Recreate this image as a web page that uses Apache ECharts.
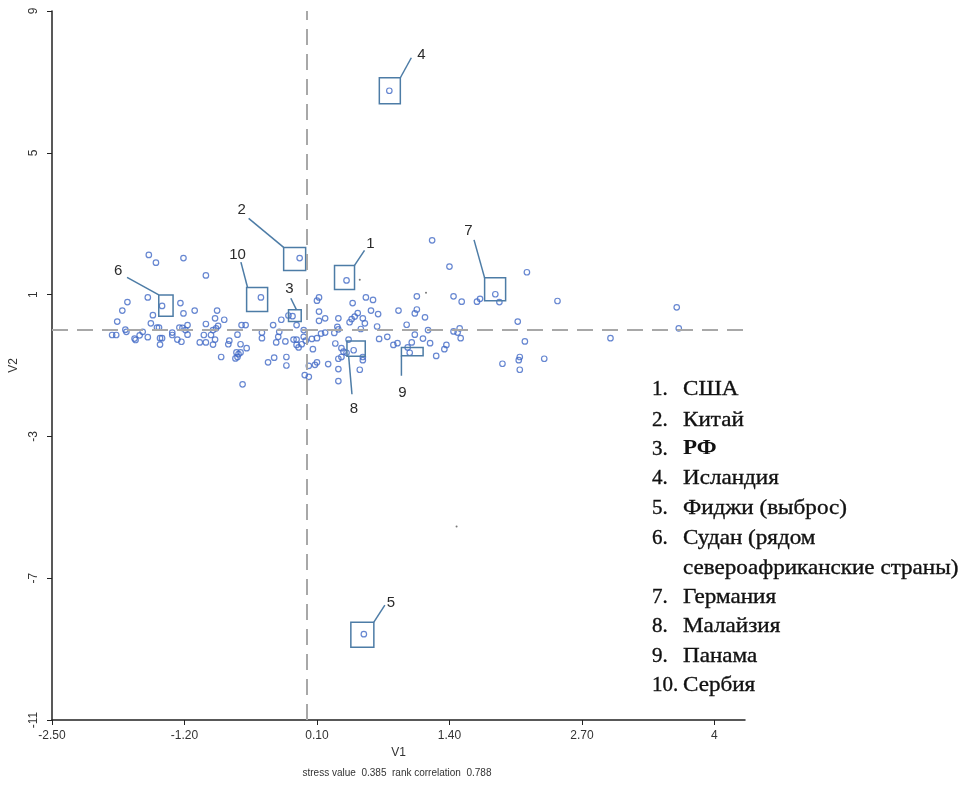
<!DOCTYPE html>
<html><head><meta charset="utf-8">
<script src="https://cdn.jsdelivr.net/npm/echarts@6/dist/echarts.min.js"></script>
<style>html,body{margin:0;padding:0;background:#fff}#c{width:964px;height:785px}</style>
</head><body><div id="c"></div>
<script>
// ---------- DATA ----------
const pointsV1 = [
-1.55,-1.48,-1.21,-0.99,-1.76,-1.56,-1.24,-1.81,-1.51,-1.21,-1.10,-0.88,-0.90,-0.81,-1.86,-1.53,-1.47,-1.45,-1.25,-1.22,
-1.17,-1.19,-0.99,-0.87,-0.89,-0.92,-0.64,-0.60,-0.33,-0.25,-0.18,-0.10,-0.03,-1.91,-1.87,-1.77,-1.78,-1.69,-1.68,-1.64,
-1.61,-1.56,-1.44,-1.42,-1.44,-1.32,-1.32,-1.27,-1.23,-1.17,-1.05,-0.99,-1.01,-0.94,-0.90,-0.92,-0.84,-0.76,-0.77,-0.68,
-0.65,-0.59,-0.69,-0.67,-0.65,-0.70,-0.68,-0.44,-0.44,-0.30,-0.27,-0.28,-0.21,-0.13,-0.10,-0.10,-0.08,-0.05,-0.03,-0.01,
-0.38,-0.32,-0.20,-0.20,-0.02,0.02,0.02,-0.63,
1.23,1.40,0.12,0.10,0.45,0.58,0.65,1.08,1.44,1.52,1.67,1.70,0.12,0.18,0.12,0.31,0.50,0.47,0.44,0.42,
0.55,0.57,0.63,0.70,0.90,1.08,1.06,1.16,0.69,0.53,0.30,0.31,0.18,0.14,0.05,0.10,0.27,0.98,1.06,1.19,
1.14,1.21,1.44,1.50,1.51,1.48,0.71,0.79,0.85,0.89,1.03,0.99,1.37,1.35,1.27,0.06,0.28,0.34,0.36,0.39,
0.41,0.31,0.34,0.55,0.55,0.08,0.10,0.21,0.31,0.52,0.31,
2.16,1.89,2.46,2.07,3.63,3.65,2.14,2.98,1.92,2.09,2.08,2.09,2.33
];
const pointsV2 = [
2.12,1.90,2.03,1.54,0.79,0.92,0.76,0.55,0.42,0.47,0.55,0.55,0.33,0.29,0.24,0.19,0.07,0.07,0.07,0.06,
0.14,0.00,0.17,0.12,0.05,0.00,0.14,0.14,0.14,0.29,0.41,0.14,0.00,-0.14,-0.14,-0.05,0.01,-0.24,-0.28,-0.15,
-0.05,-0.20,-0.23,-0.23,-0.41,-0.07,-0.14,-0.27,-0.33,-0.13,-0.35,-0.35,-0.14,-0.14,-0.27,-0.41,-0.76,-0.30,-0.40,-0.13,
-0.40,-0.51,-0.63,-0.68,-0.63,-0.80,-0.76,-0.07,-0.23,-0.35,-0.05,-0.19,-0.32,-0.27,-0.27,-0.42,-0.49,-0.40,-0.19,-0.30,
-0.91,-0.78,-0.76,-1.00,-1.27,-1.32,-1.01,-1.53,
2.53,1.79,0.92,0.83,0.76,0.92,0.85,0.95,0.95,0.80,0.80,0.88,0.52,0.33,0.26,0.33,0.48,0.38,0.31,0.22,
0.33,0.19,0.55,0.45,0.55,0.58,0.47,0.36,0.10,0.03,0.09,0.02,-0.07,-0.10,-0.25,-0.23,-0.08,0.15,-0.13,0.00,
-0.24,-0.37,-0.04,0.05,-0.23,-0.07,-0.25,-0.19,-0.42,-0.37,-0.35,-0.49,-0.42,-0.54,-0.73,-0.54,-0.38,-0.51,-0.61,-0.64,
-0.27,-0.81,-0.76,-0.76,-0.85,-0.98,-0.91,-0.96,-1.10,-1.12,-1.44,
1.63,0.79,0.82,0.24,0.64,0.05,-0.32,-0.23,-0.95,-0.76,-0.85,-1.12,-0.81
];
// highlighted countries, numbered 1..10
const highlightLabels = ['1','2','3','4','5','6','7','8','9','10'];
const highlightV1 = [0.39,-0.07,-0.14,0.81,0.56,-1.42,1.85,0.46,1.01,-0.45];
const highlightV2 = [1.40,2.03,0.39,6.75,-8.58,0.68,1.01,-0.57,-0.64,0.92];
// tiny stray dots
const dotsV1 = [0.52,1.17,1.47];
const dotsV2 = [1.42,1.05,-5.54];
// legend
const legendNumbers = ['1.','2.','3.','4.','5.','6.','','7.','8.','9.','10.'];
const legendNames = ['США','Китай','РФ','Исландия','Фиджи (выброс)','Судан (рядом','североафриканские страны)','Германия','Малайзия','Панама','Сербия'];
const subtitleText = 'stress value  0.385  rank correlation  0.788';

// ---------- LAYOUT / STYLE (pixel offsets relative to each highlighted point) ----------
const annotationLayout = [
  {box:[-12,-15,8,9],      line:[[8,-15],[18,-30]],     label:[24,-37]},
  {box:[-16,-10.7,6,12.3], line:[[-16,-10.7],[-51,-39.7]], label:[-58,-48.7]},
  {box:[-4,-6.4,8.7,5.3],  line:[[4,-6.4],[-1.7,-18]],  label:[-3,-27.7]},
  {box:[-10,-13,11,13],    line:[[11,-13],[22,-33]],    label:[32,-36]},
  {box:[-13,-12,10,13],    line:[[10,-12],[21,-29]],    label:[27,-31]},
  {box:[-3.3,-11,11,10.4], line:[[-3.3,-11],[-35,-28.6]], label:[-44,-35.3]},
  {box:[-10.7,-16.4,10.3,6.6], line:[[-10.7,-16.4],[-21.3,-54.4]], label:[-27,-63.7]},
  {box:[-6.7,-9.3,11.6,6], line:[[-5,6],[-1.7,44]],     label:[0.3,58.7]},
  {box:[-8.3,-5.3,13.4,3], line:[[-8.3,3],[-8.3,23]],   label:[-7.3,40]},
  {box:[-14.3,-10,6.7,14], line:[[-13.3,-9.7],[-20,-35.3]], label:[-23.3,-43]}
];
const legendX = 652, legendTextX = 683;
const legendY = [389,420,449,478,508,538,568,597,626,656,685];

const POINT_COLOR = '#4169c6';
const BOX_COLOR = '#4d7ca6';
const AXIS_FONT = '"Liberation Sans", Arial, sans-serif';
const SERIF = '"Liberation Serif", "Times New Roman", serif';

const mainData = pointsV1.map((v, i) => [v, pointsV2[i]]);
const hlData = highlightV1.map((v, i) => [v, highlightV2[i]]);
const dotData = dotsV1.map((v, i) => [v, dotsV2[i]]);

const chart = echarts.init(document.getElementById('c'), null, {renderer: 'canvas'});

const graphics = [];
legendNames.forEach((name, i) => {
  if (legendNumbers[i]) {
    graphics.push({type:'text', x: legendX, y: legendY[i], silent:true,
      style:{text: legendNumbers[i], fill:'#111', stroke:'#111', lineWidth:0.35, font:'21px ' + SERIF,
             textAlign:'left', textVerticalAlign:'middle', align:'left', verticalAlign:'middle'}});
  }
  const bold = name === 'РФ';
  graphics.push({type:'text', x: legendTextX, y: legendY[i], silent:true, scaleX: 1.1,
    style:{text: name, fill:'#111', stroke:'#111', lineWidth: bold ? 0 : 0.35,
           font:(bold ? 'bold ' : '') + '21px ' + SERIF,
           textAlign:'left', textVerticalAlign:'middle', align:'left', verticalAlign:'middle'}});
});
graphics.push({type:'text', x: 397, y: 773, silent:true,
  style:{text: subtitleText, fill:'#333', font:'10px ' + AXIS_FONT,
         textAlign:'center', textVerticalAlign:'middle', align:'center', verticalAlign:'middle'}});

const option = {
  animation: false,
  backgroundColor: '#fff',
  grid: {left: 49, right: 219, top: 11, bottom: 65, containLabel: false},
  xAxis: {
    type: 'value', min: -2.5, max: 4.3, interval: 1.3,
    name: 'V1', nameLocation: 'middle', nameGap: 27,
    nameTextStyle: {fontFamily: AXIS_FONT, fontSize: 12, color: '#333'},
    axisLine: {show: true, onZero: false, lineStyle: {color: '#222', width: 1.5}},
    axisTick: {show: true, length: 5, lineStyle: {color: '#222'}},
    axisLabel: {fontFamily: AXIS_FONT, fontSize: 12, color: '#333', margin: 10, showMaxLabel: false,
      formatter: v => Math.abs(v - 4) < 1e-6 ? '4' : v.toFixed(2)},
    splitLine: {show: false}
  },
  yAxis: {
    type: 'value', min: -11, max: 9, interval: 4,
    name: 'V2', nameLocation: 'middle', nameGap: 32, nameRotate: 90,
    nameTextStyle: {fontFamily: AXIS_FONT, fontSize: 12, color: '#333'},
    axisLine: {show: true, onZero: false, lineStyle: {color: '#222', width: 1.5}},
    axisTick: {show: true, length: 5, lineStyle: {color: '#222'}},
    axisLabel: {fontFamily: AXIS_FONT, fontSize: 12, color: '#333', rotate: 90, margin: 12,
      formatter: v => String(Math.round(v))},
    splitLine: {show: false}
  },
  graphic: graphics,
  series: [
    {
      type: 'scatter', data: mainData, symbol: 'circle', symbolSize: 5.5, silent: true,
      itemStyle: {color: 'rgba(0,0,0,0)', borderColor: POINT_COLOR, borderWidth: 1.2},
      markLine: {
        silent: true, symbol: ['none','none'], label: {show: false},
        lineStyle: {color: '#a8a8a8', type: [16, 9], width: 2},
        data: [{xAxis: 0}, {yAxis: 0}]
      },
      z: 3
    },
    {
      type: 'scatter', data: hlData, symbol: 'circle', symbolSize: 5.5, silent: true,
      itemStyle: {color: 'rgba(0,0,0,0)', borderColor: POINT_COLOR, borderWidth: 1.2}, z: 3
    },
    {
      type: 'scatter', data: dotData, symbol: 'circle', symbolSize: 2, silent: true,
      itemStyle: {color: '#555'}, z: 3
    },
    {
      type: 'custom', data: hlData, silent: true, z: 4, clip: false,
      renderItem: function (params, api) {
        const i = params.dataIndex;
        const p = api.coord([api.value(0), api.value(1)]);
        const L = annotationLayout[i];
        return {type: 'group', children: [
          {type: 'rect', shape: {x: p[0] + L.box[0], y: p[1] + L.box[1],
             width: L.box[2] - L.box[0], height: L.box[3] - L.box[1]},
           style: {fill: null, stroke: BOX_COLOR, lineWidth: 1.5}},
          {type: 'polyline', shape: {points: [[p[0] + L.line[0][0], p[1] + L.line[0][1]],
             [p[0] + L.line[1][0], p[1] + L.line[1][1]]]},
           style: {fill: null, stroke: BOX_COLOR, lineWidth: 1.5}},
          {type: 'text', x: p[0] + L.label[0], y: p[1] + L.label[1],
           style: {text: highlightLabels[i], fill: '#2b2b2b', font: '15px ' + AXIS_FONT,
                   textAlign: 'center', textVerticalAlign: 'middle', align: 'center', verticalAlign: 'middle'}}
        ]};
      }
    }
  ]
};
chart.setOption(option);
</script>
</body></html>
